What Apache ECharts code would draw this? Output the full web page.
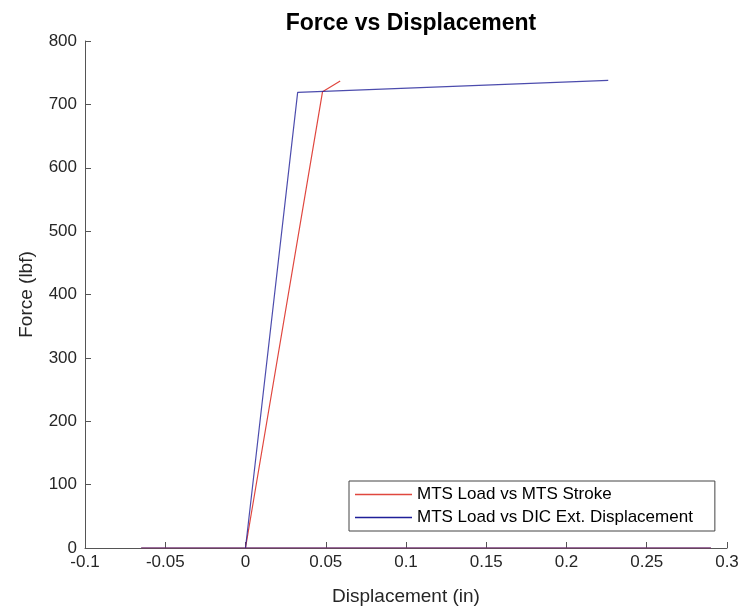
<!DOCTYPE html>
<html>
<head>
<meta charset="utf-8">
<script src="https://cdn.jsdelivr.net/npm/echarts@6/dist/echarts.min.js"></script>
<style>
  html, body { margin: 0; padding: 0; background: #fff; }
  #chart { width: 744px; height: 611px; }
</style>
</head>
<body>
<div id="chart"></div>
<script>
// Data
const seriesNames = ['MTS Load vs MTS Stroke', 'MTS Load vs DIC Ext. Displacement'];
const strokeDisp = [-0.065, 0.29, 0, 0.048, 0.059];
const strokeLoad = [0, 0, 0, 720, 737];
const dicDisp = [-0.065, 0.29, 0, 0.0325, 0.226];
const dicLoad = [0, 0, 0, 719, 738];
const xTicks = { min: -0.1, max: 0.3, step: 0.05 };
const yTicks = { min: 0, max: 800, step: 100 };

const pairs = (xs, ys) => xs.map((x, i) => [x, ys[i]]);
const font = '"Liberation Sans", Arial, Helvetica, sans-serif';

const chart = echarts.init(document.getElementById('chart'), null, { renderer: 'canvas' });
chart.setOption({
  animation: false,
  backgroundColor: '#ffffff',
  title: {
    text: 'Force vs Displacement',
    left: 406, top: 7, textAlign: 'center',
    textStyle: { fontFamily: font, fontSize: 23, fontWeight: 'bold', color: '#000' }
  },
  grid: { left: 85, right: 17, top: 41, bottom: 53, containLabel: false },
  legend: {
    orient: 'vertical',
    left: 349, top: 481,
    padding: [5, 22, 5, 6],
    itemGap: 6,
    itemWidth: 57, itemHeight: 1.3,
    icon: 'rect',
    borderColor: '#444', borderWidth: 1, backgroundColor: '#fff', borderRadius: 0,
    textStyle: { fontFamily: font, fontSize: 17, color: '#000', lineHeight: 17 },
    data: seriesNames
  },
  xAxis: {
    type: 'value',
    min: xTicks.min, max: xTicks.max, interval: xTicks.step,
    name: 'Displacement (in)', nameLocation: 'middle', nameGap: 39,
    nameTextStyle: { fontFamily: font, fontSize: 19, color: '#262626' },
    axisLine: { onZero: false, lineStyle: { color: '#555', width: 1 } },
    axisTick: { inside: true, length: 6, lineStyle: { color: '#555' } },
    axisLabel: {
      fontFamily: font, fontSize: 17, color: '#262626', margin: 6,
      formatter: v => String(+v.toFixed(2))
    },
    splitLine: { show: false }
  },
  yAxis: {
    type: 'value',
    min: yTicks.min, max: yTicks.max, interval: yTicks.step,
    name: 'Force (lbf)', nameLocation: 'middle', nameGap: 49,
    nameTextStyle: { fontFamily: font, fontSize: 19, color: '#262626' },
    axisLine: { show: true, onZero: false, lineStyle: { color: '#555', width: 1 } },
    axisTick: { show: true, inside: true, length: 6, lineStyle: { color: '#555' } },
    axisLabel: { fontFamily: font, fontSize: 17, color: '#262626', margin: 8 },
    splitLine: { show: false }
  },
  series: [
    {
      name: seriesNames[0], type: 'line', symbol: 'none',
      data: pairs(strokeDisp, strokeLoad),
      lineStyle: { color: '#e0473f', width: 1.2 },
      itemStyle: { color: '#e0473f' }
    },
    {
      name: seriesNames[1], type: 'line', symbol: 'none',
      data: pairs(dicDisp, dicLoad),
      lineStyle: { color: '#1f1f99', width: 1.2, opacity: 0.8 },
      itemStyle: { color: '#1f1f99' }
    }
  ]
});
</script>
</body>
</html>
